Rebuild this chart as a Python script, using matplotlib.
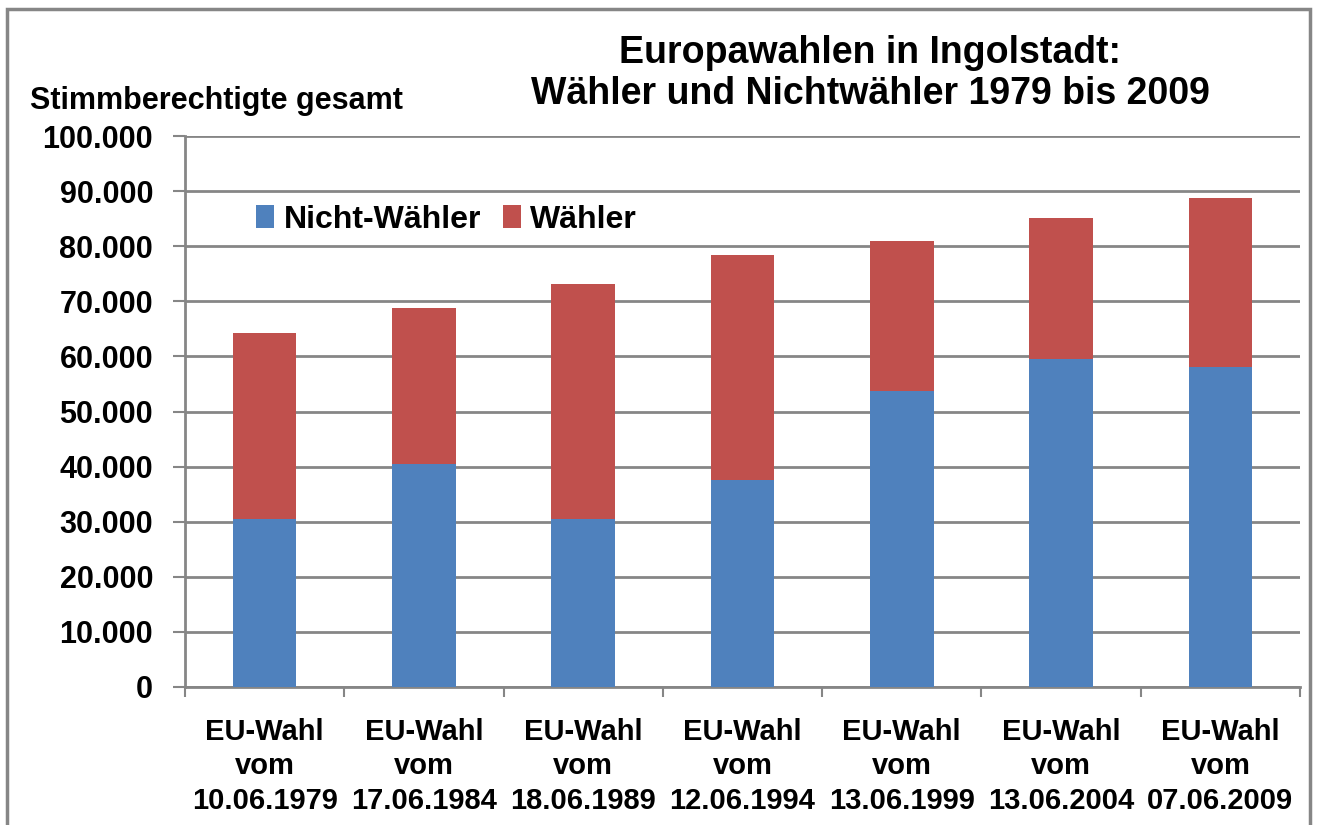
import numpy as np
import matplotlib.pyplot as plt
from matplotlib.patches import Rectangle

# data
categories = ["EU-Wahl\nvom\n10.06.1979", "EU-Wahl\nvom\n17.06.1984", "EU-Wahl\nvom\n18.06.1989",
              "EU-Wahl\nvom\n12.06.1994", "EU-Wahl\nvom\n13.06.1999", "EU-Wahl\nvom\n13.06.2004",
              "EU-Wahl\nvom\n07.06.2009"]
nicht_waehler = [30400, 40400, 30500, 37500, 53700, 59600, 58000]
gesamt = [64300, 68700, 73100, 78400, 81000, 85100, 88800]
waehler = [g - n for g, n in zip(gesamt, nicht_waehler)]
yticks = list(range(0, 100001, 10000))
ytick_labels = ["0"] + [f"{v // 1000}.000" for v in yticks[1:]]
title_lines = ["Europawahlen in Ingolstadt:", "Wähler und Nichtwähler 1979 bis 2009"]

plt.rcParams['font.family'] = ['Liberation Sans', 'DejaVu Sans']
plt.rcParams['font.weight'] = 'bold'

blue = "#4F81BD"
red = "#C0504D"
grid_col = "#868686"

fig = plt.figure(figsize=(13.18, 8.25), dpi=100)
ax = fig.add_axes([185 / 1318, 1 - 687 / 825, (1300 - 185) / 1318, (687 - 136) / 825])

x = np.arange(len(categories))
ax.bar(x, nicht_waehler, width=0.4, color=blue, label="Nicht-Wähler", zorder=3)
ax.bar(x, waehler, width=0.4, bottom=nicht_waehler, color=red, label="Wähler", zorder=3)

ax.set_xlim(-0.5, len(categories) - 0.5)
ax.set_ylim(0, 100000)
ax.set_yticks(yticks)
ax.set_yticklabels(ytick_labels, fontsize=22, fontweight='bold')
ax.yaxis.grid(True, color=grid_col, linewidth=2, zorder=0)
ax.tick_params(axis='y', length=9, width=1.5, color=grid_col, pad=14)

# category labels centred, ticks at category boundaries
ax.set_xticks(x)
ax.set_xticklabels(categories, fontsize=21, fontweight='bold')
for lbl in ax.get_xticklabels():
    lbl.set_linespacing(1.3)
ax.tick_params(axis='x', length=0, pad=22)
ax.set_xticks(np.arange(-0.5, len(categories), 1), minor=True)
ax.tick_params(axis='x', which='minor', length=7, width=1.5, color=grid_col)

for side in ['top', 'right']:
    ax.spines[side].set_visible(False)
for side in ['left', 'bottom']:
    ax.spines[side].set_color(grid_col)
    ax.spines[side].set_linewidth(2)

ax.legend(loc='center left', bbox_to_anchor=(0.064, 0.848), ncol=2, frameon=False,
          prop={'size': 23, 'weight': 'bold'}, handlelength=0.55, handleheight=0.7,
          handletextpad=0.3, columnspacing=0.7, borderaxespad=0, borderpad=0)

for line, ypix in zip(title_lines, [63, 104]):
    fig.text(870 / 1318, 1 - ypix / 825, line, ha='center', va='baseline',
             fontsize=27, fontweight='bold')
fig.text(30 / 1318, 1 - 101 / 825, "Stimmberechtigte gesamt", ha='left', va='center',
         fontsize=22, fontweight='bold')

# outer chart border
fig.patches.append(Rectangle((7 / 1318, -0.05), (1310 - 7) / 1318, 1 - 9 / 825 + 0.05,
                             transform=fig.transFigure, fill=False, edgecolor=grid_col, linewidth=2.5))

fig.savefig("out.png", dpi=100)
